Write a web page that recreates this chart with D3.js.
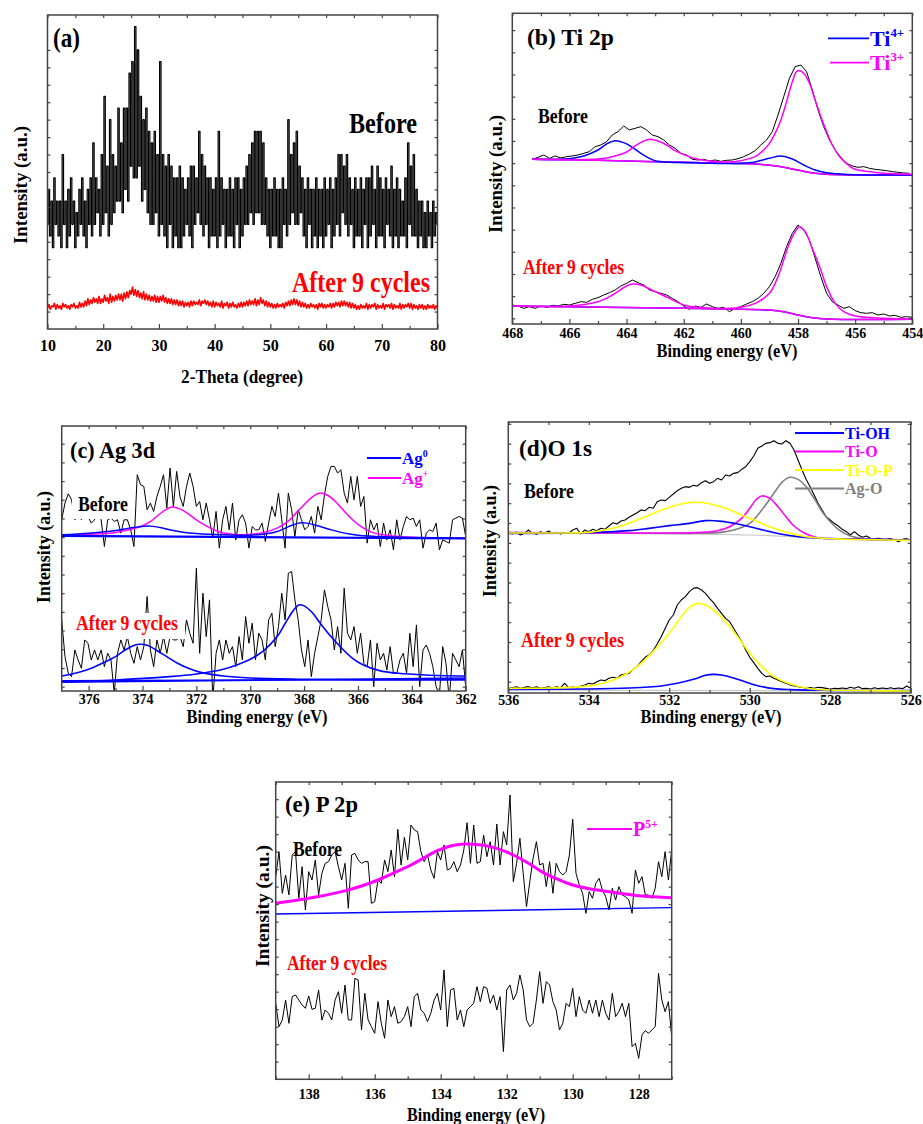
<!DOCTYPE html>
<html>
<head>
<meta charset="utf-8">
<script src="https://cdn.jsdelivr.net/npm/d3@7"></script>
<style>
  body { margin: 0; background: #fff; }
  svg text { font-family: "Liberation Serif", "Times New Roman", serif; font-weight: bold; }
</style>
</head>
<body>
<svg id="fig" width="923" height="1124"></svg>
<script>
/*
 * Five panel figure: XRD (a) and XPS spectra (b-e), before / after 9 cycles
 * Raw scans are stored as intensity lists on an even energy (or angle) grid,
 * fitted components as [energy, intensity] pairs
*/

// ---------- (a) XRD, 2-theta from 10 to 80 deg, 0.25 deg step ----------
var xrdStart = 10, xrdEnd = 80;
var xrdTicks = [10, 20, 30, 40, 50, 60, 70, 80];
var xrdBefore = [
  9,12,8,11, 7,13,9,11, 8,11,7,15, 9,11,7,12, 8,13,9,11, 7,10,8,12, 9,13,8,11, 7,12,9,13,
  8,16,9,13, 10,12,8,15, 9,20,10,14, 8,18,9,15, 10,14,11,19, 11,16,10,19, 12,19,11,22, 14,23,13,26,
  13,24,14,20, 11,18,12,19, 10,17,9,16, 9,17,10,15, 8,23,9,15, 8,14,7,15, 9,14,7,13, 8,13,7,14,
  7,13,8,12, 9,13,8,14, 7,14,9,13, 10,17,9,15, 8,14,9,13, 7,13,8,12, 8,13,7,17, 8,13,9,12,
  7,12,8,13, 8,12,7,13, 9,13,7,12, 8,13,9,14, 9,15,10,16, 9,17,10,17, 10,17,9,16, 9,13,8,12,
  7,12,8,13, 8,12,7,12, 7,13,9,12, 8,18,9,15, 10,16,9,17, 9,14,10,13, 8,12,7,13, 9,12,7,12,
  8,13,7,12, 8,12,7,13, 8,12,9,13, 7,12,8,13, 9,15,8,15, 10,14,9,15, 8,13,9,12, 7,13,8,12,
  8,13,7,12, 9,13,7,13, 8,14,9,12, 7,14,8,13, 8,12,7,13, 9,12,8,14, 7,12,8,13, 7,12,8,11,
  8,13,7,16, 9,14,8,15, 8,12,7,11, 8,11,7,10, 7,11,8,10, 7,11,8,10, 9
];
var xrdAfter = [
  1.8,2.1,1.7,2.0, 1.9,2.2,1.7,2.1, 1.8,2.0,1.7,2.2, 1.9,2.1,1.8,2.0, 1.7,2.1,1.9,2.2, 1.8,2.0,1.8,2.3,
  1.9,2.2,1.9,2.4, 2.0,2.6,2.1,2.5, 2.2,2.7,2.3,2.6, 2.2,2.8,2.2,2.6, 2.3,2.9,2.4,2.7, 2.2,3.0,2.3,2.8,
  2.4,2.9,2.5,3.0, 2.5,3.0,2.4,3.1, 2.6,3.2,2.7,3.3, 3.0,3.6,2.9,3.4, 2.8,3.3,2.7,3.1, 2.6,3.2,2.5,3.0,
  2.5,2.9,2.4,2.8, 2.4,2.9,2.3,2.8, 2.3,2.8,2.4,2.9, 2.3,2.7,2.2,2.6, 2.2,2.6,2.1,2.5, 2.1,2.5,2.0,2.4,
  2.0,2.4,1.9,2.3, 2.0,2.3,1.9,2.4, 2.0,2.4,2.1,2.3, 2.1,2.5,2.0,2.4, 2.2,2.5,2.1,2.4, 2.0,2.3,1.9,2.4,
  1.9,2.3,2.0,2.2, 1.9,2.4,1.8,2.2, 2.0,2.3,1.8,2.2, 1.9,2.3,1.9,2.1, 1.8,2.2,1.9,2.3, 1.9,2.3,2.0,2.4,
  2.0,2.5,2.1,2.4, 2.1,2.6,2.0,2.5, 2.1,2.7,2.2,2.5, 2.0,2.4,1.9,2.3, 1.9,2.2,1.8,2.1, 1.8,2.2,1.9,2.1,
  1.9,2.2,1.8,2.3, 2.0,2.4,2.0,2.5, 2.1,2.6,2.1,2.5, 2.0,2.4,1.9,2.3, 1.9,2.2,1.8,2.1, 1.8,2.2,1.9,2.1,
  1.8,2.1,1.7,2.2, 1.9,2.2,1.8,2.1, 1.8,2.1,1.9,2.2, 1.8,2.2,1.9,2.3, 2.0,2.3,1.9,2.4, 2.0,2.4,2.0,2.3,
  1.9,2.3,1.8,2.2, 1.8,2.1,1.7,2.0, 1.7,2.1,1.8,2.0, 1.8,2.2,1.7,2.1, 1.8,2.1,1.9,2.2, 1.7,2.1,1.8,2.0,
  1.8,2.2,1.7,2.1, 1.9,2.1,1.8,2.2, 1.7,2.1,1.8,2.0, 1.8,2.2,1.7,2.1, 1.8,2.1,1.9,2.2, 1.8,2.2,1.7,2.1,
  1.8,2.0,1.7,2.1, 1.8,2.1,1.7,2.0, 1.7,2.1,1.8,2.0, 1.8,2.1,1.7,2.0, 1.8
];

// ---------- (b) Ti 2p ----------
var tiTicks = [468, 466, 464, 462, 460, 458, 456, 454];
var tiBeforeStart = 467.3, tiBeforeEnd = 454.1;
var tiBefore = [
  542,548,555,545,552,546,550,552,555,560, 565,580,585,595,615,625,642,630,635,640,
  630,615,610,600,585,575,560,555,542,540, 542,537,540,536,539,540,544,550,558,568,
  585,600,625,675,730,785,820,825,805,750, 690,640,600,570,548,530,522,518,520,515,
  512,510,508,505,503,501,500
];
var tiAfterStart = 468, tiAfterEnd = 454;
var tiAfter = [
  105,102,95,100,95,102,98,104,102,107, 105,110,115,113,122,127,135,142,150,162,
  170,180,172,165,150,145,140,135,125,115, 102,92,102,98,108,100,95,98,85,95,
  100,108,115,125,140,160,190,230,280,320, 345,330,300,245,190,140,115,105,95,100,
  88,82,80,82,75,78,72,74,68,70, 68
];
var ti4Before = [[467.3,542],[466,544],[465.5,552],[465,570],[464.7,588],[464.4,598],[464.1,592],[463.8,578],
  [463.5,560],[463.2,545],[463,538],[462.5,533],[462,532],[461,530],[460,530],[459.5,534],[459,545],
  [458.6,552],[458.2,543],[457.8,525],[457.4,510],[457,502],[456.5,498],[456,496],[455,495],[454,495]];
var ti3Before = [[467.3,542],[465,543],[464.5,550],[464,564],[463.7,582],[463.4,597],[463.2,602],[462.9,597],
  [462.6,585],[462.3,568],[462,556],[461.5,542],[461,536],[460.5,534],[460,538],[459.5,550],[459.2,570],
  [459,590],[458.8,620],[458.6,660],[458.4,715],[458.2,775],[458.05,805],[457.95,808],[457.8,800],
  [457.6,770],[457.4,720],[457.2,670],[457,625],[456.8,585],[456.5,545],[456.2,522],[456,512],
  [455.5,505],[455,500],[454,497]];
var tiBaseBefore = [[467.3,542],[465,539],[463,535],[461,531],[459.5,528],[458.7,521],[458.2,513],
  [457.8,506],[457.4,500],[457,497],[456,495],[454,494]];
var ti3After = [[468,102],[466,102],[465,115],[464.5,135],[464,162],[463.8,168],[463.5,165],[463,145],
  [462.5,125],[462,105],[461,95],[460,98],[459.5,110],[459,140],[458.7,190],[458.5,240],[458.3,290],
  [458.1,325],[457.95,340],[457.75,325],[457.5,275],[457.2,210],[457,160],[456.7,110],[456.4,85],
  [456,72],[455,65],[454,62]];
var tiBaseAfter = [[468,102],[462,95],[460,92],[459,90],[458.5,85],[458,75],[457.5,67],[457,63],[454,62]];

// ---------- (c) Ag 3d ----------
var agTicks = [376, 374, 372, 370, 368, 366, 364, 362];
var agStart = 377, agEnd = 362;
var agBefore = [
  540,590,618,600,540,560,540,570,550,530, 540,570,540,460,540,545,535,540,500,540,
  540,510,460,675,645,640,570,590,565,610, 640,675,575,695,580,685,610,580,640,680,
  640,580,595,540,590,540,485,565,455,540, 580,510,590,480,540,555,530,455,520,510,
  510,530,475,530,580,550,620,540,455,620, 570,490,570,540,510,520,550,500,580,540,
  615,670,700,700,680,690,620,590,670,600, 670,580,610,470,540,510,530,460,530,480,
  510,450,540,480,520,550,540,545,520,540, 455,500,510,505,530,450,480,475,470,540,
  545,550,545,490
];
var agAfter = [
  240,130,80,70,150,120,95,180,170,120, 150,120,150,100,140,120,20,140,180,150,
  190,140,110,160,120,160,310,150,100,180, 140,190,140,190,180,180,190,160,240,200,
  170,395,140,320,190,300,0,140,180,120, 180,140,160,100,190,120,250,170,230,120,
  200,180,120,240,260,160,220,320,240,380, 385,300,240,150,100,180,70,140,190,240,
  330,280,240,150,220,140,335,200,180,220, 140,200,110,100,180,40,170,120,140,90,
  160,80,80,120,140,80,200,100,225,40, 150,165,140,100,40,15,160,110,0,140,
  120,100,150,40
];
var ag0Before = [[377,495],[376,500],[375,508],[374.5,515],[374,520],[373.7,521],[373.3,516],[373,510],
  [372.5,503],[372,499],[371,495],[370,494],[369.5,497],[369,505],[368.5,522],[368.2,530],[367.9,530],
  [367.5,522],[367,510],[366.5,500],[366,494],[365,489],[364,487],[362,485]];
var agPlusBefore = [[377,493],[376,496],[375,502],[374.5,510],[374,522],[373.7,535],[373.4,555],
  [373.1,572],[372.9,578],[372.6,572],[372.3,558],[372,540],[371.6,520],[371.2,505],[370.8,498],
  [370.4,495],[370,496],[369.5,502],[369,515],[368.6,535],[368.3,560],[368,585],[367.7,608],
  [367.4,620],[367.1,612],[366.8,592],[366.5,565],[366.2,540],[365.9,520],[365.5,503],[365,494],
  [364.5,490],[364,488],[363,486],[362,485]];
var agBaseBefore = [[377,492],[362,484]];
var ag0AfterA = [[377,72],[376.5,80],[376,92],[375.5,110],[375,130],[374.6,152],[374.3,164],[374.1,167],
  [373.8,163],[373.5,150],[373.1,130],[372.7,110],[372.3,95],[371.8,82],[371,72],[370,66],[368,62],
  [365,60],[362,60]];
var ag0AfterB = [[377,55],[375,60],[373,70],[372,78],[371,92],[370.5,105],[370,122],[369.5,148],[369,190],
  [368.7,230],[368.4,268],[368.2,285],[368,282],[367.7,262],[367.4,230],[367,190],[366.6,155],
  [366.2,125],[365.8,105],[365.2,88],[364.5,80],[363.5,75],[362,72]];
var agBaseAfterA = [[377,58],[362,62]];
var agBaseAfterB = [[377,53],[362,66]];

// ---------- (d) O 1s, 0.1 eV step ----------
var oTicks = [536, 534, 532, 530, 528, 526];
var oStart = 536, oEnd = 526;
var oBefore = [
  512,508,514,505,510,520,510,507,515,510, 517,510,513,508,512,510,520,525,508,520,
  515,522,518,525,522,532,542,538,547,550, 558,565,572,580,578,588,585,605,610,608,
  618,628,638,645,650,648,654,652,662,668, 660,665,675,670,685,682,690,692,702,710,
  725,742,765,772,780,782,788,780,778,788, 780,760,730,700,672,650,625,600,580,560,
  550,540,532,522,515,505,515,505,498,502, 495,494,495,493,492,494,490,485,492,494,
  490
];
var oAfter = [
  45,47,50,45,48,50,46,50,45,47, 50,46,50,47,60,47,50,47,52,55,
  60,58,65,70,68,75,78,75,85,88, 90,102,110,125,138,145,158,178,200,225,
  250,265,295,310,320,335,345,347,340,330, 315,302,285,270,255,245,225,205,185,160,
  138,122,105,90,80,82,75,70,65,60, 55,52,50,48,45,47,45,48,47,45,
  42,45,44,46,44,48,45,50,44,45, 43,47,44,46,44,47,44,46,44,52,
  45
];
var tiOHBefore = [[536,510],[534,512],[533,518],[532.5,525],[532,533],[531.5,540],[531.1,548],[530.7,546],
  [530.3,538],[530,530],[529.6,518],[529.2,507],[528.8,500],[528.4,496],[528,494],[527,492],[526,490]];
var tiOBefore = [[536,512],[532,511],[531.2,513],[530.8,518],[530.5,530],[530.2,555],[530,585],[529.85,610],
  [529.7,622],[529.5,615],[529.3,590],[529.1,560],[528.9,532],[528.6,508],[528.3,497],[528,494],
  [527,492],[526,490]];
var tiOPBefore = [[536,511],[535,511],[534,513],[533.5,522],[533,540],[532.5,565],[532,588],[531.7,599],
  [531.4,603],[531,599],[530.6,585],[530.2,565],[529.8,545],[529.4,525],[529,510],[528.6,500],
  [528,494],[527,491],[526,489]];
var agOBefore = [[536,512],[531.5,510],[530.8,512],[530.4,520],[530,540],[529.7,580],[529.4,630],[529.2,663],
  [529,678],[528.8,672],[528.6,650],[528.4,615],[528.2,575],[528,545],[527.8,522],[527.5,502],
  [527.2,495],[527,492],[526,490]];
var oBaseBefore = [[536,512],[530,505],[528,495],[526,490]];
var tiOPAfter = [[536,45],[535,46],[534.2,50],[533.6,62],[533.2,80],[532.8,110],[532.4,155],[532,210],
  [531.7,260],[531.5,288],[531.3,300],[531.1,295],[530.9,280],[530.6,245],[530.3,200],[530,150],
  [529.7,110],[529.4,80],[529,58],[528.5,44],[528,40],[527,38],[526,37]];
var tiOHAfter = [[536,42],[534,43],[533,46],[532.2,52],[531.8,60],[531.4,72],[531.1,84],[530.9,87],
  [530.7,85],[530.4,76],[530.1,64],[529.8,53],[529.4,44],[529,41],[528,39],[526,38]];
var oBaseAfter = [[536,40],[530,38],[528,37],[526,36]];

// ---------- (e) P 2p, 0.1 eV step ----------
var pTicks = [138, 136, 134, 132, 130, 128];
var pStart = 139, pEnd = 127;
var pBefore = [
  608,683,558,613,553,673,683,543,638,508, 623,598,658,553,618,648,653,673,683,638,
  598,648,513,673,678,658,648,653,653,528, 533,598,588,658,623,688,608,750,643,726,
  658,763,748,743,683,653,673,628,603,683, 658,703,628,633,653,623,643,688,770,648,
  763,648,653,733,668,713,643,766,643,743, 703,853,593,648,723,618,518,593,663,713,
  643,648,578,653,558,648,623,613,623,673, 780,618,583,558,498,563,543,588,603,568,
  548,508,573,538,578,553,548,538,498,628, 588,608,553,553,543,573,653,608,683,598,
  688
];
var pAfter = [
  228,158,178,238,168,248,253,238,223,213, 250,210,213,268,178,208,198,178,238,263,
  198,283,178,178,303,298,148,258,178,158, 138,233,168,123,238,188,218,168,173,188,
  218,158,248,258,208,198,173,198,238,258, 208,328,158,268,273,178,208,158,208,218,
  228,278,233,278,273,228,253,208,248,83, 268,283,238,258,313,268,178,158,168,238,
  323,228,293,283,233,208,148,168,228,218, 273,188,248,208,198,238,198,238,188,238,
  198,178,258,188,203,228,188,228,98,108, 63,133,146,138,148,158,318,238,203,233,
  128
];
var p5Before = [[139,528],[138,543],[137,563],[136.4,580],[135.9,598],[135.4,620],[134.9,643],[134.5,665],
  [134.1,686],[133.7,700],[133.3,706],[133.0,705],[132.5,698],[132,682],[131.8,673],[131.3,646],
  [130.85,618],[130.4,598],[130,583],[129.5,572],[128.9,563],[128.4,556],[127.9,550],[127,545]];
var pBaseBefore = [[139,496],[127,515]];

var svg = d3.select("#fig");
var defs = svg.append("defs");

//turns an evenly stepped scan into [x, y] pairs
function scan(start, end, vals) {
    return vals.map(function (v, i) {
        return [start + i * (end - start) / (vals.length - 1), v];
    });
}

//odd values between the labelled ticks
function minors(ticks) {
    var out = [];
    for (var i = 0; i < ticks.length - 1; i++) out.push((ticks[i] + ticks[i + 1]) / 2);
    return out;
}

//frame, inward ticks and tick labels for one panel
function panel(p) {
    var x = d3.scaleLinear().domain(p.xDomain).range([p.left, p.right]);
    var y = d3.scaleLinear().domain(p.yDomain).range([p.bottom, p.top]);
    var g = svg.append("g");

    defs.append("clipPath").attr("id", "clip-" + p.id)
        .append("rect")
        .attr("x", p.left).attr("y", p.top)
        .attr("width", p.right - p.left).attr("height", p.bottom - p.top);

    var plot = g.append("g").attr("clip-path", "url(#clip-" + p.id + ")");
    var axes = g.append("g");
    var minor = p.xMinor || minors(p.xMajor);

    axes.append("g").attr("transform", "translate(0," + p.bottom + ")")
        .call(d3.axisBottom(x).tickValues(p.xMajor).tickSize(-5).tickPadding(p.pad).tickFormat(d3.format("d")));
    axes.append("g").attr("transform", "translate(0," + p.bottom + ")")
        .call(d3.axisBottom(x).tickValues(minor).tickSize(-3).tickFormat(""));
    axes.append("g").attr("transform", "translate(0," + p.top + ")")
        .call(d3.axisTop(x).tickValues(p.xMajor.concat(minor)).tickSize(-3).tickFormat(""));
    axes.append("g").attr("transform", "translate(" + p.left + ",0)")
        .call(d3.axisLeft(y).tickValues(p.yTicks).tickSize(-3).tickFormat(""));
    axes.append("g").attr("transform", "translate(" + p.right + ",0)")
        .call(d3.axisRight(y).tickValues(p.yTicks).tickSize(-3).tickFormat(""));

    axes.selectAll(".domain").remove();
    axes.selectAll("line").attr("stroke", "#444").attr("stroke-width", 1.2);
    axes.selectAll("text").attr("fill", "#000").style("font-size", p.tickFont + "px");

    g.append("rect")
        .attr("x", p.left).attr("y", p.top)
        .attr("width", p.right - p.left).attr("height", p.bottom - p.top)
        .attr("fill", "none").attr("stroke", "#444").attr("stroke-width", 1.5);

    return { x: x, y: y, plot: plot, g: g };
}

//plain polyline for raw data, smooth one for fitted components
function line(P, pts, color, width, curve) {
    var gen = d3.line()
        .x(function (d) { return P.x(d[0]); })
        .y(function (d) { return P.y(d[1]); });
    if (curve === true) gen.curve(d3.curveCatmullRom);
    else if (curve) gen.curve(curve);
    P.plot.append("path").datum(pts)
        .attr("fill", "none").attr("stroke", color).attr("stroke-width", width)
        .attr("stroke-linejoin", "round")
        .attr("d", gen);
}

function text(g, str, x, y, size, len, color, anchor) {
    var t = g.append("text").attr("x", x).attr("y", y)
        .attr("fill", color || "#000")
        .attr("text-anchor", anchor || "start")
        .style("font-size", size + "px")
        .text(str);
    if (len) t.attr("textLength", len).attr("lengthAdjust", "spacingAndGlyphs");
    return t;
}

function yTitle(g, cx, cy, size, len) {
    g.append("text")
        .attr("transform", "translate(" + cx + "," + cy + ") rotate(-90)")
        .attr("text-anchor", "middle").attr("dy", "0.35em")
        .style("font-size", size + "px")
        .attr("textLength", len).attr("lengthAdjust", "spacingAndGlyphs")
        .text("Intensity (a.u.)");
}

//legend entry: short line then label with a superscript
function legend(g, x1, x2, ly, color, base, sup, size, baseline) {
    g.append("line").attr("x1", x1).attr("x2", x2).attr("y1", ly).attr("y2", ly)
        .attr("stroke", color).attr("stroke-width", 1.8);
    var t = g.append("text").attr("x", x2 + 1).attr("y", baseline)
        .attr("fill", color).style("font-size", size + "px");
    t.append("tspan").text(base);
    if (sup) t.append("tspan").attr("dy", -size * 0.42).style("font-size", (size * 0.58) + "px").text(sup);
}

function whiteBox(g, x, y, w, h) {
    g.append("rect").attr("x", x).attr("y", y).attr("width", w).attr("height", h).attr("fill", "#fff");
}

var BLUE = "#0000ff", MAG = "#ff00ff", YEL = "#ffff00", GRAY = "#808080", RED = "#ff0000";

// ---------- panel (a) ----------
var A = panel({ id: "a", left: 47.5, right: 437.5, top: 15, bottom: 329,
    xDomain: [10, 80], yDomain: [0, 27], xMajor: xrdTicks,
    yTicks: d3.range(1.5, 25, 1.5), pad: 11, tickFont: 16 });
line(A, scan(xrdStart, xrdEnd, xrdBefore), "#000", 1.2, d3.curveStep);
line(A, scan(xrdStart, xrdEnd, xrdAfter), RED, 1.6);
text(A.g, "(a)", 53, 47, 27, 27);
text(A.g, "Before", 349, 133, 29, 68);
text(A.g, "After 9 cycles", 292, 292, 29, 138, RED);
text(A.g, "2-Theta (degree)", 242, 383, 19, 122, "#000", "middle");
yTitle(A.g, 20, 185, 19, 118);

// ---------- panel (b) ----------
var B = panel({ id: "b", left: 512.3, right: 912.3, top: 13.3, bottom: 324,
    xDomain: [468, 454], yDomain: [48, 980], xMajor: tiTicks,
    yTicks: d3.range(65, 960, 66.5), pad: 4, tickFont: 14 });
line(B, scan(tiBeforeStart, tiBeforeEnd, tiBefore), "#000", 1);
line(B, scan(tiAfterStart, tiAfterEnd, tiAfter), "#000", 1);
line(B, tiBaseBefore, BLUE, 1.5, true);
line(B, tiBaseBefore, MAG, 1.5, true);
line(B, tiBaseAfter, BLUE, 1.5, true);
line(B, tiBaseAfter, MAG, 1.5, true);
line(B, ti4Before, BLUE, 1.5, true);
line(B, ti3Before, MAG, 1.5, true);
line(B, ti3After, MAG, 1.5, true);
text(B.g, "(b) Ti 2p", 527, 45, 24, 87);
text(B.g, "Before", 538, 123, 22, 50);
text(B.g, "After 9 cycles", 523, 274, 22, 101, RED);
legend(B.g, 828, 869, 38.3, BLUE, "Ti", "4+", 22, 46);
legend(B.g, 830, 869, 62.7, MAG, "Ti", "3+", 22, 70);
text(B.g, "Binding energy (eV)", 727, 357, 18, 141, "#000", "middle");
yTitle(B.g, 495.5, 174, 19, 118);

// ---------- panel (c) ----------
var C = panel({ id: "c", left: 61.7, right: 465.7, top: 426, bottom: 691,
    xDomain: [agStart, agEnd], yDomain: [27, 821], xMajor: agTicks,
    xMinor: [375, 373, 371, 369, 367, 365, 363], yTicks: d3.range(40, 821, 56), pad: 3, tickFont: 14 });
line(C, scan(agStart, agEnd, agBefore), "#000", 1);
line(C, scan(agStart, agEnd, agAfter), "#000", 1);
line(C, agPlusBefore, MAG, 1.5, true);
line(C, ag0Before, BLUE, 1.5, true);
line(C, agBaseBefore, BLUE, 2.2);
line(C, agBaseAfterA, BLUE, 1.4);
line(C, agBaseAfterB, BLUE, 1.4);
line(C, ag0AfterA, BLUE, 1.6, true);
line(C, ag0AfterB, BLUE, 1.6, true);
whiteBox(C.g, 72, 495, 60, 24);
whiteBox(C.g, 73, 613, 112, 26);
text(C.g, "(c) Ag 3d", 70, 458, 24, 85);
text(C.g, "Before", 78, 511, 21, 50);
text(C.g, "After 9 cycles", 76, 630, 21, 102, RED);
legend(C.g, 367, 401, 458, BLUE, "Ag", "0", 17, 464);
legend(C.g, 368, 401, 478, MAG, "Ag", "+", 17, 484);
text(C.g, "Binding energy (eV)", 257, 723, 18, 141, "#000", "middle");
yTitle(C.g, 43.5, 547, 19, 112);

// ---------- panel (d) ----------
var D = panel({ id: "d", left: 508.3, right: 910.7, top: 422, bottom: 693,
    xDomain: [oStart, oEnd], yDomain: [31, 844], xMajor: oTicks,
    yTicks: d3.range(65, 844, 59.5), pad: 2, tickFont: 14 });
line(D, scan(oStart, oEnd, oBefore), "#000", 1.1);
line(D, scan(oStart, oEnd, oAfter), "#000", 1.1);
line(D, oBaseBefore, "#c8c8c8", 1.2, true);
line(D, oBaseAfter, "#c8c8c8", 1.2, true);
line(D, agOBefore, GRAY, 1.6, true);
line(D, tiOBefore, MAG, 1.6, true);
line(D, tiOHBefore, BLUE, 1.6, true);
line(D, tiOPBefore, YEL, 1.6, true);
line(D, tiOHAfter, BLUE, 1.6, true);
line(D, tiOPAfter, YEL, 1.6, true);
text(D.g, "(d)O 1s", 519, 456, 24, 73);
text(D.g, "Before", 524, 498, 20, 50);
text(D.g, "After 9 cycles", 521, 647, 20, 103, RED);
legend(D.g, 795, 844, 433, BLUE, "Ti-OH", null, 16, 438.5);
legend(D.g, 795, 844, 451.5, MAG, "Ti-O", null, 16, 457);
legend(D.g, 795, 844, 470, YEL, "Ti-O-P", null, 16, 475.5);
legend(D.g, 795, 844, 488.5, GRAY, "Ag-O", null, 16, 494);
text(D.g, "Binding energy (eV)", 711, 723, 18, 141, "#000", "middle");
yTitle(D.g, 489.5, 541, 19, 112);

// ---------- panel (e) ----------
var E = panel({ id: "e", left: 275.7, right: 671.7, top: 782, bottom: 1079.3,
    xDomain: [pStart, pEnd], yDomain: [0, 892], xMajor: pTicks,
    xMinor: [139, 137, 135, 133, 131, 129, 127], yTicks: d3.range(53, 890, 52.5), pad: 10, tickFont: 14 });
line(E, scan(pStart, pEnd, pBefore), "#000", 1);
line(E, scan(pStart, pEnd, pAfter), "#000", 1);
line(E, pBaseBefore, BLUE, 1.3);
line(E, p5Before, MAG, 3, true);
text(E.g, "(e) P 2p", 285, 812, 24, 73);
text(E.g, "Before", 293, 856, 20, 49);
text(E.g, "After 9 cycles", 287, 970, 20, 100, RED);
legend(E.g, 587, 632, 829, MAG, "P", "5+", 20, 836);
text(E.g, "Binding energy (eV)", 476, 1121, 18, 138, "#000", "middle");
yTitle(E.g, 262.5, 906, 19, 122);
</script>
</body>
</html>
